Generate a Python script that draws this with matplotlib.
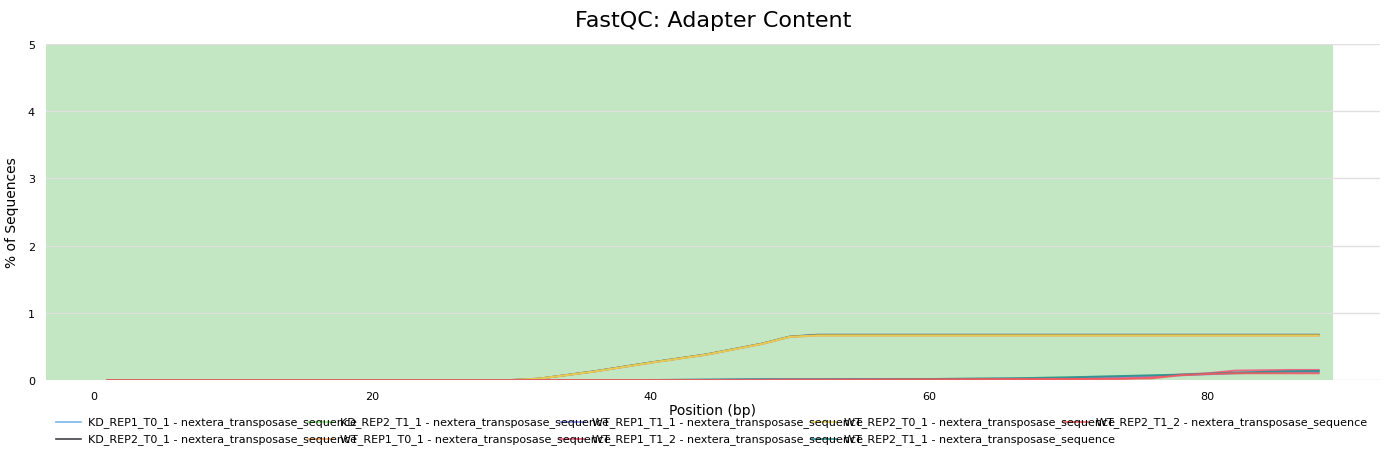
import matplotlib
matplotlib.use("Agg")
import matplotlib.pyplot as plt
from matplotlib.lines import Line2D

# Posições (bp) e % de sequências por amostra
positions = [1, 10, 20, 30, 32, 36, 40, 44, 48, 50, 52, 60, 66, 70, 74, 76, 78, 80, 82, 84, 86, 88]

kd_rep1_t0_1 = [0, 0, 0, 0, 0.02, 0.13, 0.26, 0.38, 0.54, 0.645, 0.675, 0.675, 0.675, 0.675, 0.675, 0.675, 0.675, 0.675, 0.675, 0.675, 0.675, 0.675]
kd_rep2_t0_1 = [0, 0, 0, 0, 0.02, 0.13, 0.26, 0.38, 0.54, 0.645, 0.672, 0.672, 0.672, 0.672, 0.672, 0.672, 0.672, 0.672, 0.672, 0.672, 0.672, 0.672]
kd_rep2_t1_1 = [0, 0, 0, 0, 0, 0, 0, 0.005, 0.01, 0.01, 0.01, 0.015, 0.025, 0.04, 0.055, 0.065, 0.075, 0.09, 0.1, 0.11, 0.115, 0.12]
wt_rep1_t0_1 = [0, 0, 0, 0, 0.02, 0.125, 0.255, 0.375, 0.535, 0.64, 0.66, 0.66, 0.66, 0.66, 0.66, 0.66, 0.66, 0.66, 0.66, 0.66, 0.66, 0.66]
wt_rep1_t1_1 = [0, 0, 0, 0, 0, 0, 0, 0.005, 0.01, 0.01, 0.01, 0.015, 0.02, 0.03, 0.045, 0.055, 0.07, 0.085, 0.1, 0.11, 0.115, 0.12]
wt_rep1_t1_2 = [0, 0, 0, 0, 0, 0, 0, 0, 0.005, 0.005, 0.005, 0.01, 0.015, 0.015, 0.02, 0.04, 0.08, 0.1, 0.14, 0.145, 0.15, 0.15]
wt_rep2_t0_1 = [0, 0, 0, 0, 0.02, 0.128, 0.258, 0.378, 0.538, 0.643, 0.665, 0.665, 0.665, 0.665, 0.665, 0.665, 0.665, 0.665, 0.665, 0.665, 0.665, 0.665]
wt_rep2_t1_1 = [0, 0, 0, 0, 0, 0, 0, 0.005, 0.01, 0.01, 0.01, 0.015, 0.025, 0.04, 0.06, 0.07, 0.08, 0.095, 0.11, 0.12, 0.13, 0.135]
wt_rep2_t1_2 = [0, 0, 0, 0, 0, 0, 0, 0, 0, 0.005, 0.005, 0.01, 0.015, 0.015, 0.02, 0.025, 0.07, 0.09, 0.1, 0.1, 0.1, 0.1]

samples = ["KD_REP1_T0_1", "KD_REP2_T0_1", "KD_REP2_T1_1", "WT_REP1_T0_1", "WT_REP1_T1_1",
           "WT_REP1_T1_2", "WT_REP2_T0_1", "WT_REP2_T1_1", "WT_REP2_T1_2"]
series = [kd_rep1_t0_1, kd_rep2_t0_1, kd_rep2_t1_1, wt_rep1_t0_1, wt_rep1_t1_1,
          wt_rep1_t1_2, wt_rep2_t0_1, wt_rep2_t1_1, wt_rep2_t1_2]
cores = ["#7cb5ec", "#434348", "#90ed7d", "#f7a35c", "#8085e9",
         "#f15c80", "#e4d354", "#2b908f", "#f45b5b"]
sufixo = " - nextera_transposase_sequence"

yticks = [0, 1, 2, 3, 4, 5]
xticks = [0, 20, 40, 60, 80]

fig = plt.figure(figsize=(13.89, 4.6), dpi=100)
ax = fig.add_axes([0.0331, 0.1717, 0.9604, 0.7305])

# faixa verde (< 5%)
ax.axvspan(-3.4, 89, color="#c3e6c3", zorder=0, lw=0)

for nome, valores, cor in zip(samples, series, cores):
    ax.plot(positions, valores, color=cor, lw=1.4, alpha=0.9, zorder=3)

ax.set_xlim(-3.4, 92.4)
ax.set_ylim(0, 5)
ax.set_yticks(yticks)
ax.set_xticks(xticks)
ax.grid(axis="y", color="#e0e0e0", lw=1, zorder=1)
ax.set_axisbelow(False)
for s in ax.spines.values():
    s.set_visible(False)
ax.tick_params(length=0, labelsize=8, pad=8)
ax.set_xlabel("Position (bp)", fontsize=10, labelpad=1)
ax.set_ylabel("% of Sequences", fontsize=10, labelpad=6)
fig.text(713 / 1389, 1 - 21 / 460, "FastQC: Adapter Content", ha="center", va="center", fontsize=16)

# legenda manual (colunas sobrepostas como no original)
W, H = 1389, 460
for i, (nome, cor) in enumerate(zip(samples, cores)):
    col, row = i // 2, i % 2
    x0 = 56 + col * 252
    y0 = 423 + row * 17
    fig.add_artist(Line2D([x0 / W, (x0 + 25) / W], [1 - y0 / H, 1 - y0 / H], color=cor, lw=1.2))
    fig.text((x0 + 32) / W, 1 - y0 / H, nome + sufixo, fontsize=8, va="center", ha="left")

fig.savefig("out.png", dpi=100)
